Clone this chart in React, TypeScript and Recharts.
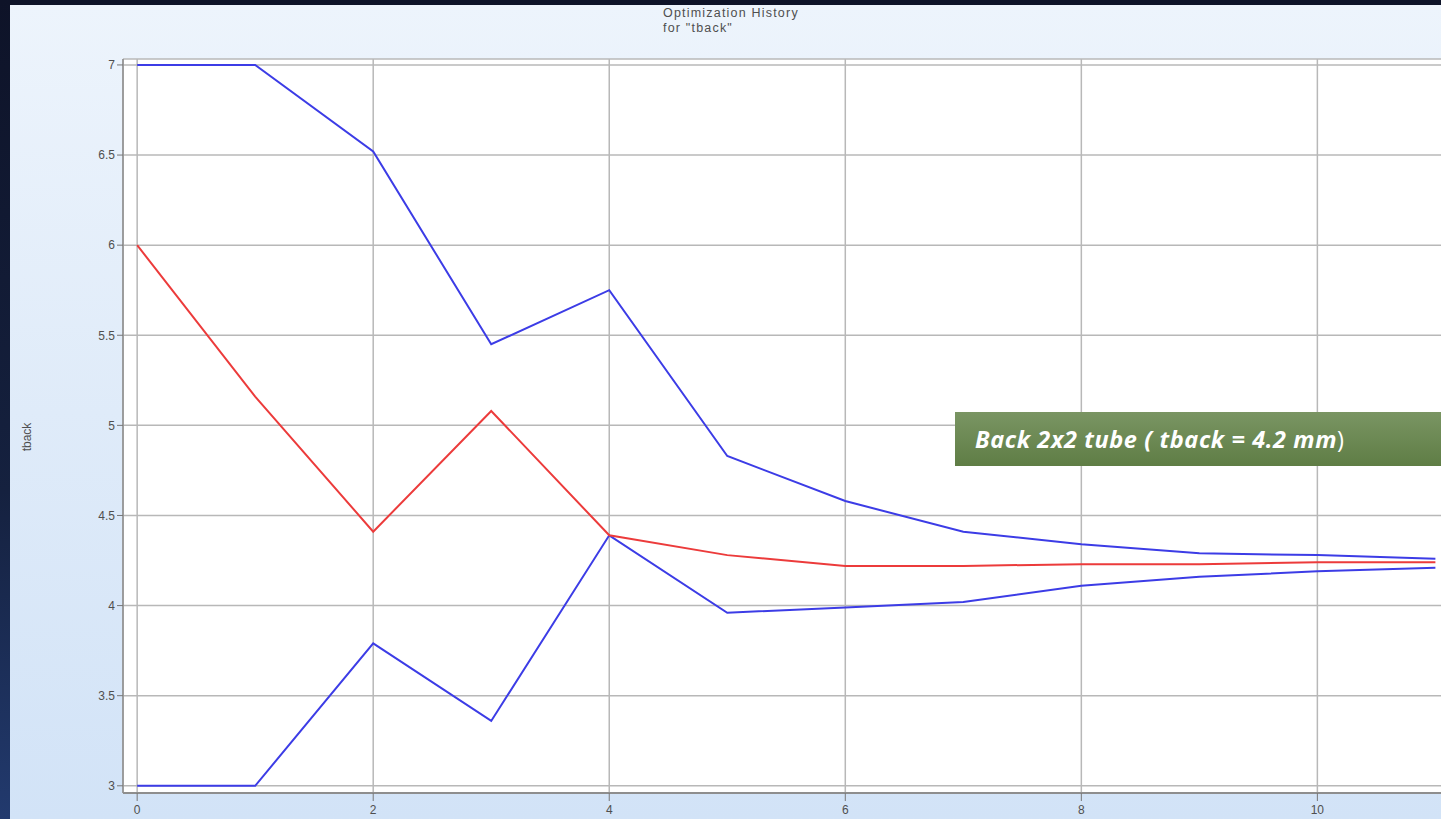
import {
  CartesianGrid,
  Line,
  LineChart,
  XAxis,
  YAxis,
} from 'recharts';

// Optimization history of the back tube wall thickness
const iterations = [0, 1, 2, 3, 4, 5, 6, 7, 8, 9, 10, 11];
const upperBound = [7, 7, 6.52, 5.45, 5.75, 4.83, 4.58, 4.41, 4.34, 4.29, 4.28, 4.26];
const tbackValue = [6, 5.16, 4.41, 5.08, 4.39, 4.28, 4.22, 4.22, 4.23, 4.23, 4.24, 4.24];
const lowerBound = [3, 3, 3.79, 3.36, 4.39, 3.96, 3.99, 4.02, 4.11, 4.16, 4.19, 4.21];

const xTicks = [0, 2, 4, 6, 8, 10];
const yTicks = [3, 3.5, 4, 4.5, 5, 5.5, 6, 6.5, 7];

const rows = iterations.map((it, i) => ({
  iteration: it,
  upper: upperBound[i],
  tback: tbackValue[i],
  lower: lowerBound[i],
}));

const FRAME = '#8e8e8e';
const GRID = '#b8b8b8';
const TEXT = '#4f4f4f';
const FONT = 'Arial, "Liberation Sans", sans-serif';

// rotated axis title, placed by hand left of the tick labels
const YTitle = () => (
  <text
    x={31}
    y={437}
    transform="rotate(-90 31 437)"
    textAnchor="middle"
    fontSize={12}
    fill={TEXT}
    fontFamily={FONT}
  >
    tback
  </text>
);

export default function App() {
  return (
    <div
      style={{
        position: 'absolute',
        left: 0,
        top: 0,
        width: 1441,
        height: 819,
        overflow: 'hidden',
        background: 'linear-gradient(to bottom, #0e1328 0%, #15213f 60%, #223a6e 100%)',
        fontFamily: FONT,
      }}
    >
      {/* light panel behind the chart */}
      <div
        style={{
          position: 'absolute',
          left: 10,
          top: 5,
          right: 0,
          bottom: 0,
          background: 'linear-gradient(to bottom, #edf4fc 0%, #dfebf9 50%, #d2e3f7 100%)',
        }}
      />

      <div
        style={{
          position: 'absolute',
          left: 663,
          top: 6,
          fontSize: 12.5,
          lineHeight: '15px',
          color: TEXT,
          letterSpacing: 1.2,
        }}
      >
        Optimization History
        <br />
        for "tback"
      </div>

      <div style={{ position: 'absolute', left: 0, top: 0 }}>
        <LineChart
          width={1459}
          height={819}
          data={rows}
          margin={{ top: 59, right: 0, bottom: 0, left: 0 }}
        >
          <CartesianGrid stroke={GRID} strokeWidth={1.5} fill="#ffffff" />
          <XAxis
            dataKey="iteration"
            type="number"
            domain={[-0.12, 11.2]}
            ticks={xTicks}
            allowDataOverflow
            height={26}
            tickSize={8}
            tickMargin={4}
            axisLine={{ stroke: FRAME, strokeWidth: 2 }}
            tickLine={{ stroke: '#777' }}
            tick={{ fontSize: 12, fill: TEXT, fontFamily: FONT }}
          />
          <XAxis
            xAxisId="top"
            dataKey="iteration"
            type="number"
            orientation="top"
            domain={[-0.12, 11.2]}
            allowDataOverflow
            height={0}
            tick={false}
            tickLine={false}
            axisLine={{ stroke: FRAME, strokeWidth: 2 }}
          />
          <YAxis
            type="number"
            domain={[2.96, 7.033]}
            ticks={yTicks}
            allowDataOverflow
            width={123}
            tickSize={6}
            tickMargin={2}
            axisLine={{ stroke: FRAME, strokeWidth: 1.5 }}
            tickLine={{ stroke: '#777' }}
            tick={{ fontSize: 12, fill: TEXT, fontFamily: FONT }}
            label={{ content: YTitle }}
          />
          <Line
            type="linear"
            dataKey="upper"
            stroke="#3c3ce6"
            strokeWidth={2}
            dot={false}
            isAnimationActive={false}
          />
          <Line
            type="linear"
            dataKey="lower"
            stroke="#3c3ce6"
            strokeWidth={2}
            dot={false}
            isAnimationActive={false}
          />
          <Line
            type="linear"
            dataKey="tback"
            stroke="#ec3b3b"
            strokeWidth={2}
            dot={false}
            isAnimationActive={false}
          />
        </LineChart>
      </div>

      {/* result callout */}
      <div
        style={{
          position: 'absolute',
          left: 955,
          top: 412,
          width: 486,
          height: 54,
          background: 'linear-gradient(to bottom, #7a9563 0%, #5f7d45 100%)',
          color: '#fff',
          fontFamily: '"Open Sans", "Noto Sans", sans-serif',
          fontSize: 23.5,
          lineHeight: '54px',
          letterSpacing: 0.6,
          paddingLeft: 20,
          boxSizing: 'border-box',
          whiteSpace: 'nowrap',
        }}
      >
        <span style={{ fontStyle: 'italic', fontWeight: 700 }}>
          Back 2x2 tube ( tback = 4.2 mm
        </span>
        <span>)</span>
      </div>
    </div>
  );
}
